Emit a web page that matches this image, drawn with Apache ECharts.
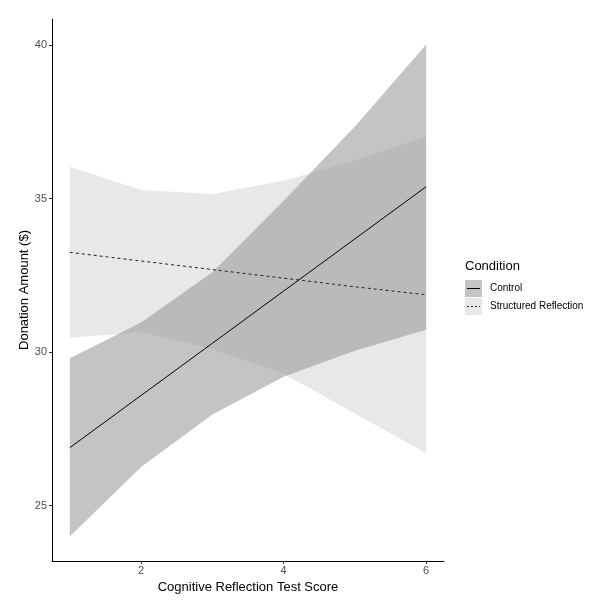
<!DOCTYPE html>
<html>
<head>
<meta charset="utf-8">
<title>Donation by CRT score</title>
<script src="https://cdn.jsdelivr.net/npm/echarts@6/dist/echarts.min.js"></script>
<style>html,body{margin:0;padding:0;background:#fff}</style>
</head>
<body>
<div id="chart" style="width:605px;height:612px;"></div>
<script type="text/javascript">
// data
var scores = [1, 2, 3, 4, 5, 6];
var controlFit = [26.89, 28.59, 30.29, 31.99, 33.69, 35.39];
var controlLow = [24.0, 26.26, 27.97, 29.2, 30.05, 30.73];
var controlHigh = [29.8, 30.97, 32.6, 34.93, 37.35, 40.02];
var reflectFit = [33.25, 32.97, 32.69, 32.41, 32.13, 31.87];
var reflectLow = [30.47, 30.65, 30.1, 29.3, 28.0, 26.71];
var reflectHigh = [36.04, 35.28, 35.15, 35.58, 36.24, 37.03];
var xTicks = [2, 4, 6];
var yTicks = [25, 30, 35, 40];

var font = 'Liberation Sans';
var chart = echarts.init(document.getElementById('chart'));

function pts(ys) { return scores.map(function (x, i) { return [x, ys[i]]; }); }

// ribbon as one polygon: lower edge left->right, upper edge right->left
function ribbon(lo, hi, fill, opacity) {
    var rows = scores.map(function (x, i) { return [x, lo[i], hi[i]]; });
    return {
        type: 'custom', data: rows, silent: true, z: 1,
        encode: {x: 0, y: [1, 2]},
        renderItem: function (params, api) {
            if (params.dataIndex !== 0) return;
            var poly = [];
            for (var i = 0; i < rows.length; i++) poly.push(api.coord([rows[i][0], rows[i][1]]));
            for (var j = rows.length - 1; j >= 0; j--) poly.push(api.coord([rows[j][0], rows[j][2]]));
            return {type: 'polygon', shape: {points: poly}, style: {fill: fill, opacity: opacity}};
        }
    };
}

var series = [
    ribbon(reflectLow, reflectHigh, '#e7e8ea', 1),
    ribbon(controlLow, controlHigh, 'rgb(153,153,153)', 0.58),
    {type: 'line', data: pts(controlFit), symbol: 'none', lineStyle: {color: '#000', width: 1}, z: 5},
    {type: 'line', data: pts(reflectFit), symbol: 'none', lineStyle: {color: '#222', width: 1, type: [3, 3]}, z: 5}
];

var option = {
    animation: false,
    grid: {left: 52, right: 161, top: 19, bottom: 51},
    xAxis: {
        type: 'value', min: 0.75, max: 6.25,
        name: 'Cognitive Reflection Test Score', nameLocation: 'middle', nameGap: 17,
        nameTextStyle: {fontFamily: font, fontSize: 13, color: '#000'},
        splitLine: {show: false},
        axisLine: {onZero: false, lineStyle: {color: '#000', width: 1}},
        axisTick: {show: true, length: 3, lineStyle: {color: '#333'}, customValues: xTicks},
        axisLabel: {fontFamily: font, fontSize: 11, color: '#4d4d4d', margin: 4, customValues: xTicks}
    },
    yAxis: {
        type: 'value', min: 23.2, max: 40.85,
        name: 'Donation Amount ($)', nameLocation: 'middle', nameGap: 21, nameMoveOverlap: false,
        nameTextStyle: {fontFamily: font, fontSize: 13, color: '#000'},
        splitLine: {show: false},
        axisLine: {show: true, onZero: false, lineStyle: {color: '#000', width: 1}},
        axisTick: {show: true, length: 3, lineStyle: {color: '#333'}, customValues: yTicks},
        axisLabel: {fontFamily: font, fontSize: 11, color: '#4d4d4d', margin: 5, customValues: yTicks}
    },
    series: series,
    graphic: [
        {type: 'text', left: 465, top: 260, style: {text: 'Condition', fontFamily: font, fontSize: 13, fill: '#000'}},
        {type: 'rect', shape: {x: 465, y: 280, width: 17, height: 17}, style: {fill: 'rgb(153,153,153)', opacity: 0.58}},
        {type: 'line', shape: {x1: 467, y1: 288.5, x2: 480, y2: 288.5}, style: {stroke: '#000', lineWidth: 1}},
        {type: 'text', left: 490, top: 283, style: {text: 'Control', fontFamily: font, fontSize: 10, fill: '#000'}},
        {type: 'rect', shape: {x: 465, y: 298, width: 17, height: 17}, style: {fill: '#e7e8ea'}},
        {type: 'line', shape: {x1: 467, y1: 306.5, x2: 480, y2: 306.5}, style: {stroke: '#222', lineWidth: 1, lineDash: [2, 2]}},
        {type: 'text', left: 490, top: 301, style: {text: 'Structured Reflection', fontFamily: font, fontSize: 10, fill: '#000'}}
    ]
};
chart.setOption(option);
</script>
</body>
</html>
